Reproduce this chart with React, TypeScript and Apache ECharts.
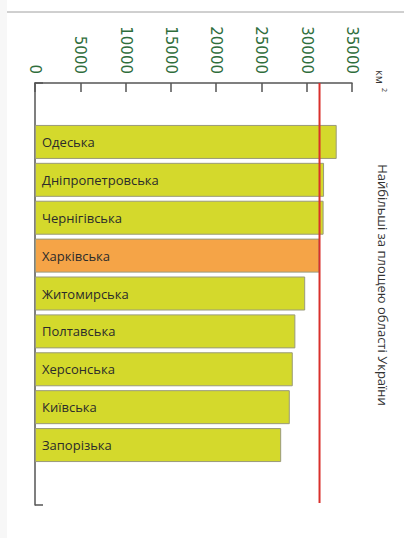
import React, { useEffect, useRef } from "react";
import * as echarts from "echarts";

const regions = [
  "Одеська",
  "Дніпропетровська",
  "Чернігівська",
  "Харківська",
  "Житомирська",
  "Полтавська",
  "Херсонська",
  "Київська",
  "Запорізька",
];
const areas = [33310, 31914, 31865, 31415, 29832, 28748, 28461, 28131, 27180];
const highlighted = "Харківська";
const axisMax = 35000;
const axisStep = 5000;
const title = "Найбільші за площею області України";
const unit = "км";

export default function App() {
  const ref = useRef<HTMLDivElement>(null);
  useEffect(() => {
    if (!ref.current) return;
    const chart = echarts.init(ref.current, null, { renderer: "svg" });
    const refValue = areas[regions.indexOf(highlighted)];
    chart.setOption({
      animation: false,
      backgroundColor: "#ffffff",
      grid: [
        { left: 35, right: 52, top: 123, bottom: 74 },
        { left: 35, right: 52, top: 83, bottom: 33 },
      ],
      xAxis: [
        { type: "value", gridIndex: 0, min: 0, max: axisMax, show: false },
        {
          type: "value",
          gridIndex: 1,
          position: "top",
          min: 0,
          max: axisMax,
          interval: axisStep,
          splitLine: { show: false },
          axisLine: { show: true, lineStyle: { color: "#555", width: 1.5 } },
          axisTick: { show: true, inside: true, length: 9, lineStyle: { color: "#555", width: 1.5 } },
          axisLabel: {
            rotate: -90,
            margin: 9,
            color: "#2f6e3c",
            fontSize: 15,
            fontFamily: "DejaVu Sans",
            formatter: (v: number) => String(v),
          },
        },
      ],
      yAxis: [
        {
          type: "category",
          gridIndex: 0,
          data: regions,
          inverse: true,
          show: false,
        },
        {
          type: "value",
          gridIndex: 1,
          min: 0,
          max: 1,
          interval: 1,
          inverse: true,
          splitLine: { show: false },
          axisLine: { show: true, lineStyle: { color: "#555", width: 1.5 } },
          axisTick: { show: true, inside: true, length: 8, lineStyle: { color: "#555", width: 1.5 } },
          axisLabel: { show: false },
        },
      ],
      series: [
        {
          type: "bar",
          xAxisIndex: 0,
          yAxisIndex: 0,
          barWidth: 34,
          data: regions.map((r, i) => ({
            value: areas[i],
            itemStyle: {
              color: r === highlighted ? "#f5a447" : "#d4d92c",
              borderColor: "#9a9a7a",
              borderWidth: 1,
            },
          })),
          label: {
            show: true,
            position: "insideLeft",
            offset: [2, 0],
            formatter: (p: any) => regions[p.dataIndex],
            color: "#2b2b2b",
            fontSize: 13,
            fontFamily: "Open Sans",
          },
          z: 2,
        },
        {
          type: "line",
          xAxisIndex: 1,
          yAxisIndex: 1,
          data: [
            [refValue, 0],
            [refValue, 0.995],
          ],
          symbol: "none",
          lineStyle: { color: "#d9302c", width: 2 },
          z: 5,
        },
      ],
      graphic: [
        {
          type: "line",
          shape: { x1: 7, y1: 12, x2: 404, y2: 12 },
          style: { stroke: "#a0a0a0", lineWidth: 1 },
        },
        {
          type: "rect",
          shape: { x: 0, y: 0, width: 7, height: 538 },
          style: { fill: "#f7f7f7" },
        },
        {
          type: "text",
          x: 380,
          y: 70,
          rotation: -Math.PI / 2,
          style: {
            text: unit,
            fontSize: 11,
            fontFamily: "Open Sans",
            fill: "#333",
            textAlign: "left",
            textVerticalAlign: "middle",
          },
        },
        {
          type: "text",
          x: 384,
          y: 88,
          rotation: -Math.PI / 2,
          style: {
            text: "2",
            fontSize: 7,
            fontFamily: "Open Sans",
            fill: "#333",
            textAlign: "left",
            textVerticalAlign: "middle",
          },
        },
        {
          type: "text",
          x: 383,
          y: 285,
          rotation: -Math.PI / 2,
          style: {
            text: title,
            fontSize: 13,
            fontFamily: "Open Sans",
            fill: "#333",
            textAlign: "center",
            textVerticalAlign: "middle",
          },
        },
      ],
    });
    return () => chart.dispose();
  }, []);
  return (
    <div
      ref={ref}
      style={{ position: "fixed", left: 0, top: 0, width: 404, height: 538 }}
    />
  );
}
